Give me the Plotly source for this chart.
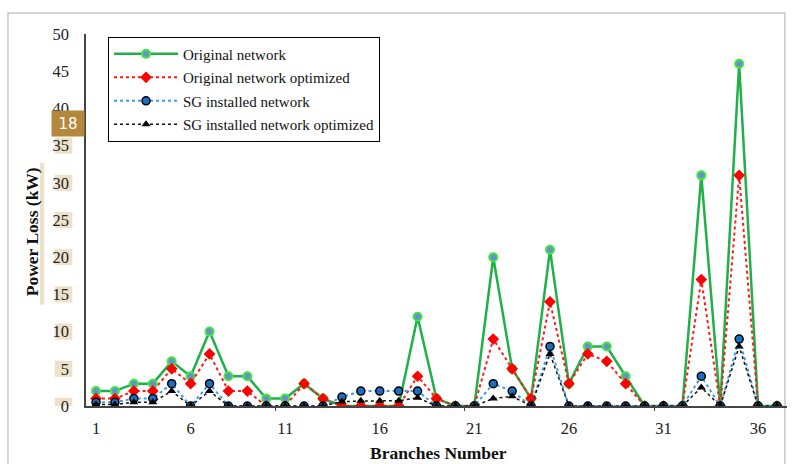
import plotly.graph_objects as go

# Branch power losses (kW) for the 37-branch feeder
branches = list(range(1, 38))
original = [2, 2, 3, 3, 6, 4, 10, 4, 4, 1, 1, 3, 1, 0, 0, 0, 0, 12, 1, 0, 0,
            20, 5, 1, 21, 3, 8, 8, 4, 0, 0, 0, 31, 0, 46, 0, 0]
original_opt = [1, 1, 2, 2, 5, 3, 7, 2, 2, 0, 0, 3, 1, 0, 0, 0, 0, 4, 1, 0, 0,
                9, 5, 1, 14, 3, 7, 6, 3, 0, 0, 0, 17, 0, 31, 0, 0]
sg_installed = [0.5, 0.5, 1, 1, 3, 0, 3, 0, 0, 0, 0, 0, 0, 1.2, 2, 2, 2, 2, 0, 0, 0,
                3, 2, 0, 8, 0, 0, 0, 0, 0, 0, 0, 4, 0, 9, 0, 0]
sg_installed_opt = [0.2, 0.2, 0.5, 0.5, 2, 0, 2, 0, 0, 0, 0, 0, 0, 0.6, 0.7, 0.7, 0.7, 1.1, 0, 0, 0,
                    1, 1.3, 0, 7, 0, 0, 0, 0, 0, 0, 0, 2.5, 0, 8, 0, 0]

x_tick_vals = [1, 6, 11, 16, 21, 26, 31, 36]
y_tick_vals = [0, 5, 10, 15, 20, 25, 30, 35, 40, 45, 50]
highlighted_ticks = [0, 5, 10, 15, 20, 25, 30, 35]

SERIF = "Liberation Serif"
X_RANGE = [0.47, 37.53]

fig = go.Figure()

fig.add_trace(go.Scatter(
    x=branches, y=original, name="Original network", mode="lines+markers",
    line=dict(color="#1fb04a", width=2.5),
    marker=dict(symbol="circle", size=8, color="#6a8fd0",
                line=dict(color="#3ee83e", width=2)),
    legendgroup="a"))
fig.add_trace(go.Scatter(
    x=branches, y=original_opt, name="Original network optimized", mode="lines+markers",
    line=dict(color="#ff1a1a", width=2, dash="dot"),
    marker=dict(symbol="diamond", size=9, color="#ff0000"),
    legendgroup="b"))
fig.add_trace(go.Scatter(
    x=branches, y=sg_installed, name="SG installed network", mode="lines+markers",
    line=dict(color="#3a9ee0", width=2, dash="dot"),
    marker=dict(symbol="circle", size=8, color="#1c6fc0",
                line=dict(color="#000000", width=1.5)),
    legendgroup="c"))
fig.add_trace(go.Scatter(
    x=branches, y=sg_installed_opt, name="SG installed network optimized", mode="lines+markers",
    line=dict(color="#111111", width=1.5, dash="dot"),
    marker=dict(symbol="triangle-up", size=8, color="#000000"),
    legendgroup="d"))

# tick marks placed between categories on a hidden overlay axis
fig.add_trace(go.Scatter(x=[None], y=[None], xaxis="x2", showlegend=False,
                         hoverinfo="skip"))

shapes = []
# outer frame
shapes.append(dict(type="rect", xref="paper", yref="paper",
                   x0=-0.1113, x1=0.997, y0=-0.2, y1=1.0565,
                   line=dict(color="#c8c8c8", width=1.5), layer="below"))
# beige highlights behind the y tick labels
for v in highlighted_ticks:
    shapes.append(dict(type="rect", xref="paper", yref="y",
                       x0=-0.0445, x1=-0.0195, y0=v - 1.08, y1=v + 1.08,
                       fillcolor="#ede1ca", line=dict(width=0), layer="below"))
# beige strip beside the y axis title
shapes.append(dict(type="rect", xref="paper", yref="y",
                   x0=-0.0656, x1=-0.0595, y0=13.6, y1=32.7,
                   fillcolor="#ede1ca", line=dict(width=0), layer="below"))

annotations = [
    dict(text="<b>Branches Number</b>", xref="paper", yref="paper",
         x=0.503, y=-0.127, xanchor="center", yanchor="middle", showarrow=False,
         font=dict(family=SERIF, size=17.5, color="#111111")),
    dict(text="<b>Power Loss (kW)</b>", xref="paper", yref="paper",
         x=-0.0765, y=0.468, xanchor="center", yanchor="middle", showarrow=False,
         textangle=-90, font=dict(family=SERIF, size=17.5, color="#111111")),
    dict(text="18", xref="paper", yref="y", x=-0.0257, y=37.97,
         xanchor="center", yanchor="middle", showarrow=False,
         width=28, height=21, bgcolor="#b3883c", borderpad=2,
         font=dict(family="DejaVu Sans", size=15, color="#ffffff")),
]

fig.update_layout(
    width=792, height=464,
    margin=dict(l=86, r=5, t=34, b=58),
    paper_bgcolor="#ffffff", plot_bgcolor="#ffffff",
    font=dict(family=SERIF, size=16, color="#222222"),
    showlegend=True,
    legend=dict(x=0.0314, y=0.993, xanchor="left", yanchor="top",
                bordercolor="#000000", borderwidth=1, bgcolor="#ffffff",
                font=dict(family=SERIF, size=15, color="#111111"),
                tracegroupgap=1, itemwidth=64),
    xaxis=dict(range=X_RANGE, tickvals=x_tick_vals,
               ticktext=[str(v) for v in x_tick_vals],
               showgrid=False, zeroline=False, showline=True,
               linecolor="#444444", linewidth=1.5, ticks="",
               ticklabelstandoff=6,
               tickfont=dict(family=SERIF, size=16.5, color="#222222")),
    xaxis2=dict(range=X_RANGE, overlaying="x", side="bottom",
                tickvals=[10.5, 20.5, 30.5], ticks="outside", ticklen=4,
                tickcolor="#444444", tickwidth=1, showticklabels=False,
                showgrid=False, zeroline=False, showline=False),
    yaxis=dict(range=[0, 50], tickvals=y_tick_vals,
               showgrid=False, zeroline=False, showline=True,
               linecolor="#444444", linewidth=1.5, ticks="",
               ticklabelstandoff=12,
               tickfont=dict(family=SERIF, size=16.5, color="#222222")),
    shapes=shapes,
    annotations=annotations,
)

fig.write_html("out.html")
